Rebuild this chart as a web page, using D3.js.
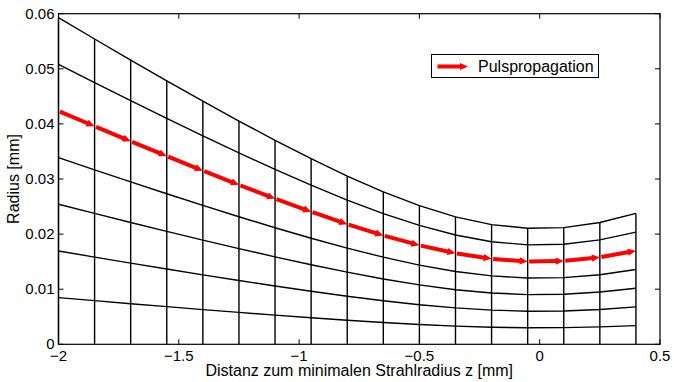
<!DOCTYPE html>
<html>
<head>
<meta charset="utf-8">
<script src="https://cdn.jsdelivr.net/npm/d3@7"></script>
<style>
  body { margin: 0; background: #fff; }
  svg text { font-family: "Liberation Sans", Arial, sans-serif; fill: #000; }
</style>
</head>
<body>
<svg id="chart" width="674" height="382"></svg>
<script>
// sample positions along z (vertical mesh lines)
const zValues = [-2, -1.85, -1.7, -1.55, -1.4, -1.25, -1.1, -0.95, -0.8, -0.65, -0.5, -0.35, -0.2, -0.05, 0.1, 0.25, 0.4];

// radius curves, inner to outer
const r1 = [0.00847, 0.00792, 0.00737, 0.00683, 0.00630, 0.00579, 0.00529, 0.00481, 0.00436, 0.00395, 0.00359, 0.00330, 0.00310, 0.00301, 0.00303, 0.00316, 0.00339];
const r2 = [0.01694, 0.01583, 0.01474, 0.01366, 0.01261, 0.01158, 0.01058, 0.00962, 0.00873, 0.00791, 0.00719, 0.00661, 0.00621, 0.00601, 0.00605, 0.00632, 0.00679];
const r3 = [0.02541, 0.02375, 0.02211, 0.02049, 0.01891, 0.01737, 0.01587, 0.01443, 0.01309, 0.01186, 0.01078, 0.00991, 0.00931, 0.00902, 0.00908, 0.00948, 0.01018];
const r4 = [0.03387, 0.03166, 0.02948, 0.02733, 0.02521, 0.02315, 0.02115, 0.01925, 0.01745, 0.01581, 0.01438, 0.01322, 0.01241, 0.01203, 0.01210, 0.01263, 0.01357];
const r5 = [0.04234, 0.03958, 0.03685, 0.03416, 0.03151, 0.02894, 0.02644, 0.02406, 0.02181, 0.01976, 0.01797, 0.01652, 0.01551, 0.01504, 0.01513, 0.01579, 0.01696];
const r6 = [0.05081, 0.04749, 0.04422, 0.04099, 0.03782, 0.03473, 0.03173, 0.02887, 0.02618, 0.02372, 0.02157, 0.01983, 0.01862, 0.01804, 0.01815, 0.01895, 0.02036];
const r7 = [0.05928, 0.05541, 0.05159, 0.04782, 0.04412, 0.04052, 0.03702, 0.03368, 0.03054, 0.02767, 0.02516, 0.02313, 0.02172, 0.02105, 0.02118, 0.02211, 0.02375];
const meshCurves = [r1, r2, r3, r4, r6, r7];
const pulseCurve = r5;

const xTicks = [-2, -1.5, -1, -0.5, 0, 0.5];
const xTickLabels = ["\u22122", "\u22121.5", "\u22121", "\u22120.5", "0", "0.5"];
const yTicks = [0, 0.01, 0.02, 0.03, 0.04, 0.05, 0.06];
const yTickLabels = ["0", "0.01", "0.02", "0.03", "0.04", "0.05", "0.06"];
const legendLabel = "Pulspropagation";

const margin = { left: 58.5, right: 14, top: 13.7, bottom: 37.7 };
const width = 674, height = 382;

const svg = d3.select("#chart");

var x = d3.scaleLinear().domain([-2, 0.5]).range([margin.left, width - margin.right]);
var y = d3.scaleLinear().domain([0, 0.06]).range([height - margin.bottom, margin.top]);

// vertical mesh lines, from axis up to outer radius
svg.append("g")
  .selectAll("line")
  .data(zValues)
  .enter()
  .append("line")
  .attr("x1", d => x(d))
  .attr("x2", d => x(d))
  .attr("y1", y(0))
  .attr("y2", (d, i) => y(r7[i]))
  .attr("stroke", "#000")
  .attr("stroke-width", 1.4);

var line = d3.line()
  .x((d, i) => x(zValues[i]))
  .y(d => y(d));

svg.append("g")
  .selectAll("path")
  .data(meshCurves)
  .enter()
  .append("path")
  .attr("d", line)
  .attr("fill", "none")
  .attr("stroke", "#000")
  .attr("stroke-width", 1.4);

// pulse propagation arrows (one per mesh segment)
var arrows = svg.append("g").attr("class", "arrows");
for (let i = 0; i < zValues.length - 1; i++) {
  var x0 = x(zValues[i]), y0 = y(pulseCurve[i]);
  var x1 = x(zValues[i + 1]), y1 = y(pulseCurve[i + 1]);
  drawArrow(arrows, x0, y0, x1, y1);
}

function drawArrow(g, x0, y0, x1, y1) {
  var ang = Math.atan2(y1 - y0, x1 - x0);
  var headLen = 8, headW = 3.6;
  var bx = x1 - headLen * Math.cos(ang), by = y1 - headLen * Math.sin(ang);
  g.append("line")
    .attr("x1", x0 + 1.5 * Math.cos(ang)).attr("y1", y0 + 1.5 * Math.sin(ang))
    .attr("x2", bx + 1 * Math.cos(ang)).attr("y2", by + 1 * Math.sin(ang))
    .attr("stroke", "#ff0000")
    .attr("stroke-width", 4);
  var px = -Math.sin(ang), py = Math.cos(ang);
  g.append("path")
    .attr("d", "M" + x1 + "," + y1 +
      "L" + (bx + px * headW) + "," + (by + py * headW) +
      "L" + (bx - px * headW) + "," + (by - py * headW) + "Z")
    .attr("fill", "#ff0000");
}

// axes frame + inward ticks
var tickLen = 5;
svg.append("rect")
  .attr("x", x(-2)).attr("y", y(0.06))
  .attr("width", x(0.5) - x(-2)).attr("height", y(0) - y(0.06))
  .attr("fill", "none").attr("stroke", "#000").attr("stroke-width", 1.2);

var ticks = svg.append("g");
xTicks.forEach(function (t, i) {
  ticks.append("line").attr("x1", x(t)).attr("x2", x(t))
    .attr("y1", y(0)).attr("y2", y(0) - tickLen).attr("stroke", "#000");
  ticks.append("line").attr("x1", x(t)).attr("x2", x(t))
    .attr("y1", y(0.06)).attr("y2", y(0.06) + tickLen).attr("stroke", "#000");
  ticks.append("text")
    .attr("x", x(t)).attr("y", y(0) + 17)
    .attr("text-anchor", "middle")
    .attr("font-size", "15px")
    .text(xTickLabels[i]);
});
yTicks.forEach(function (t, i) {
  ticks.append("line").attr("x1", x(-2)).attr("x2", x(-2) + tickLen)
    .attr("y1", y(t)).attr("y2", y(t)).attr("stroke", "#000");
  ticks.append("line").attr("x1", x(0.5)).attr("x2", x(0.5) - tickLen)
    .attr("y1", y(t)).attr("y2", y(t)).attr("stroke", "#000");
  ticks.append("text")
    .attr("x", x(-2) - 4).attr("y", y(t) + 5)
    .attr("text-anchor", "end")
    .attr("font-size", "15px")
    .text(yTickLabels[i]);
});

// axis titles
svg.append("text")
  .attr("x", (x(-2) + x(0.5)) / 2).attr("y", 376)
  .attr("text-anchor", "middle")
  .attr("font-size", "16px")
  .text("Distanz zum minimalen Strahlradius z [mm]");

svg.append("text")
  .attr("transform", "translate(19," + (y(0.03)) + ") rotate(-90)")
  .attr("text-anchor", "middle")
  .attr("font-size", "16px")
  .text("Radius [mm]");

// legend
var legend = svg.append("g");
legend.append("rect")
  .attr("x", 431.5).attr("y", 54.5).attr("width", 167).attr("height", 23)
  .attr("fill", "#fff").attr("stroke", "#000").attr("stroke-width", 1);
drawArrow(legend, 436, 66.5, 468, 66.5);
legend.append("text")
  .attr("x", 478).attr("y", 72)
  .attr("font-size", "16px")
  .text(legendLabel);
</script>
</body>
</html>
